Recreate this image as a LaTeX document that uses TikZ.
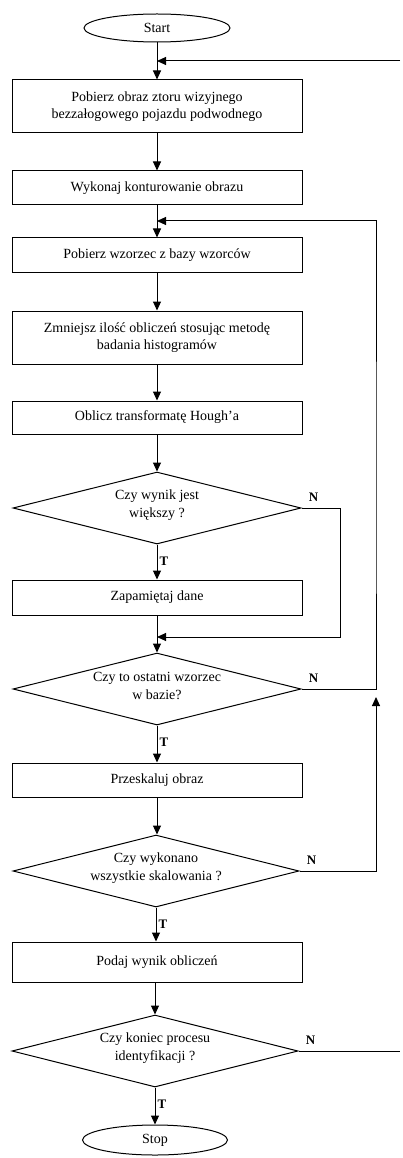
\documentclass[tikz,border=0pt]{standalone}
\usepackage{fontspec}
\setmainfont{Liberation Serif}
\usetikzlibrary{shapes.geometric,arrows.meta}
\begin{document}
\begin{tikzpicture}[x=1pt,y=-1pt,
  every node/.style={font=\fontsize{14}{17.5}\selectfont},
  proc/.style={draw, line width=1pt, rectangle, minimum width=290pt, inner sep=0pt, align=center},
  dec/.style={draw, line width=1pt, diamond, aspect=4, minimum width=288pt, minimum height=72pt, inner sep=0pt},
  dtext/.style={align=center, inner sep=0pt},
  term/.style={draw, line width=1pt, ellipse, minimum width=146pt, minimum height=28pt, inner sep=0pt},
  ln/.style={line width=1pt},
  arr/.style={line width=1pt, -{Triangle[length=9pt,width=8pt]}},
  lab/.style={font=\fontsize{13}{15}\selectfont\bfseries, inner sep=0pt}]
\useasboundingbox (0,0) rectangle (403,1158);

\node[term] (start) at (157,28) {Start};
\node[proc, minimum height=53pt] (b1) at (157,106.5) {Pobierz obraz ztoru wizyjnego\\bezzałogowego pojazdu podwodnego};
\node[proc, minimum height=34pt] (b2) at (157,188) {Wykonaj konturowanie obrazu};
\node[proc, minimum height=34pt] (b3) at (157,255) {Pobierz wzorzec z bazy wzorców};
\node[proc, minimum height=53pt] (b4) at (157,337.5) {Zmniejsz ilość obliczeń stosując metodę\\badania histogramów};
\node[proc, minimum height=33pt] (b5) at (157,417.5) {Oblicz transformatę Hough'a};
\node[dec] (d1) at (157,508) {};
\node[dtext] (d1t) at (157,505) {Czy wynik jest\\większy ?};
\node[proc, minimum height=35pt] (b6) at (157,597.5) {Zapamiętaj dane};
\node[dec] (d2) at (157,689) {};
\node[dtext] (d2t) at (157,686) {Czy to ostatni wzorzec\\w bazie?};
\node[proc, minimum height=34pt] (b7) at (157,780) {Przeskaluj obraz};
\node[dec, minimum width=286pt] (d3) at (156,871) {};
\node[dtext] (d3t) at (156,868) {Czy wykonano\\wszystkie skalowania ?};
\node[proc, minimum height=40pt] (b8) at (157,962) {Podaj wynik obliczeń};
\node[dec, minimum width=286pt] (d4) at (155,1051) {};
\node[dtext] (d4t) at (155,1048) {Czy koniec procesu\\identyfikacji ?};
\node[term, minimum width=145pt, minimum height=30pt] (stop) at (155,1140) {Stop};

\coordinate (m1) at (157,61);
\coordinate (m2) at (157,221);
\coordinate (m3) at (157,637);
\coordinate (topR) at (400,61);
\coordinate (botR) at (400,1051);
\coordinate (n1) at (340,637);
\coordinate (r2) at (376,500);
\coordinate (r3) at (376,697);

% main flow
\draw[ln] (start) -- (m1);
\draw[arr] (m1) -- (b1);
\draw[arr] (b1) -- (b2);
\draw[ln] (b2) -- (m2);
\draw[arr] (m2) -- (b3);
\draw[arr] (b3) -- (b4);
\draw[arr] (b4) -- (b5);
\draw[arr] (b5) -- (d1);
\draw[arr] (d1) -- (b6);
\draw[ln] (b6) -- (m3);
\draw[arr] (m3) -- (d2);
\draw[arr] (d2) -- (b7);
\draw[arr] (b7) -- (b7 |- d3.north);
\draw[arr] (d3.south) -- (d3.south |- b8.north);
\draw[arr] (b8.south -| d4) -- (d4.north);
\draw[arr] (d4) -- (stop);

% loops
\draw[arr] (topR) -- (m1);
\draw[arr] (d1.east) -| (n1) -- (m3);
\draw[arr] (d2.east) -| (r2) |- (m2);
\draw[arr] (d3.east) -| (r3);
\draw[ln] (d4.east) -- (botR);

% labels
\foreach \d in {d1,d2,d3,d4}{
  \node[lab] (N\d) at ([shift={(12,-11)}]\d.east) {N};
  \node[lab] (T\d) at ([shift={(7,17)}]\d.south) {T};
}
\end{tikzpicture}
\end{document}
